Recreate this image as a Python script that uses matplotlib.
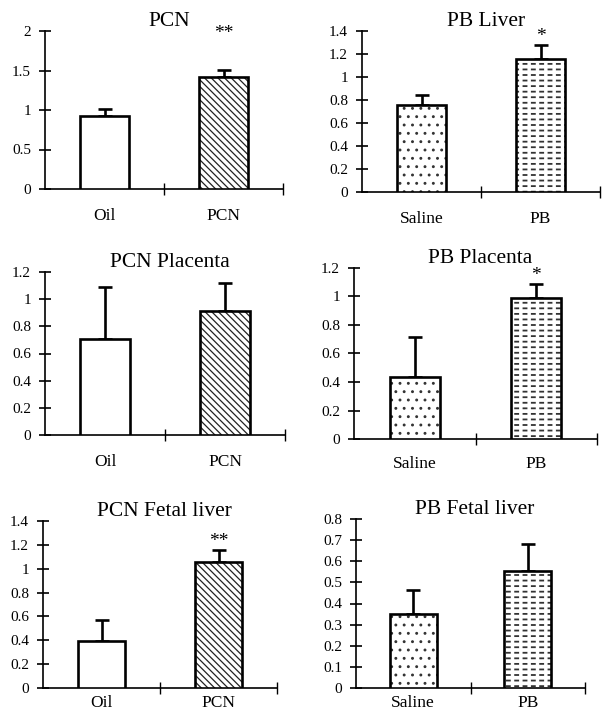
import matplotlib
matplotlib.use("Agg")
import matplotlib.pyplot as plt
from matplotlib.ticker import FuncFormatter, MultipleLocator

plt.rcParams['font.family'] = ['Liberation Serif', 'DejaVu Serif']
plt.rcParams['hatch.linewidth'] = 0.9

# --- data ---
TITLES = ["PCN", "PB Liver", "PCN Placenta", "PB Placenta",
          "PCN Fetal liver", "PB Fetal liver"]
GROUPS_PCN = ["Oil", "PCN"]
GROUPS_PB = ["Saline", "PB"]

pcn_means = [0.92, 1.42]
pcn_err = [0.09, 0.09]
pb_liver_means = [0.76, 1.16]
pb_liver_err = [0.08, 0.12]
pcn_plac_means = [0.71, 0.91]
pcn_plac_err = [0.38, 0.21]
pb_plac_means = [0.435, 0.99]
pb_plac_err = [0.28, 0.095]
pcn_fetal_means = [0.395, 1.06]
pcn_fetal_err = [0.175, 0.10]
pb_fetal_means = [0.35, 0.555]
pb_fetal_err = [0.115, 0.125]

STARS = ["**", "*", "", "*", "**", ""]

YMAX = [2, 1.4, 1.2, 1.2, 1.4, 0.8]
YSTEP = [0.5, 0.2, 0.2, 0.2, 0.2, 0.1]

# pixel boxes of each panel: left, right, top, bottom
BOXES = [(45, 283, 31, 189), (362, 600, 31, 192),
         (45, 285, 272, 435), (354, 597, 268, 439),
         (43, 277, 521, 688), (356, 585, 519, 688)]
STAR_OFFSET = [20, 0, 0, 0, 0, 0]
XLABEL_PAD = [14, 14, 14, 12, 5, 5]

W, H = 602, 712

panels = [
    (GROUPS_PCN, pcn_means, pcn_err),
    (GROUPS_PB, pb_liver_means, pb_liver_err),
    (GROUPS_PCN, pcn_plac_means, pcn_plac_err),
    (GROUPS_PB, pb_plac_means, pb_plac_err),
    (GROUPS_PCN, pcn_fetal_means, pcn_fetal_err),
    (GROUPS_PB, pb_fetal_means, pb_fetal_err),
]


def fmt(v, pos):
    return "%g" % round(v, 2)


fig = plt.figure(figsize=(W / 100, H / 100), dpi=100)

for i, (groups, means, err) in enumerate(panels):
    l, r, t, b = BOXES[i]
    ax = fig.add_axes([l / W, (H - b) / H, (r - l) / W, (b - t) / H])
    x = range(len(groups))
    pcn = groups == GROUPS_PCN

    if pcn:
        hatches = ["", "\\\\\\\\\\"]
        hcolor = "#222222"
    else:
        hatches = ["..", "---"]
        hcolor = "#333333"

    # hatch layer drawn in grey, outline drawn on top in black
    bars = ax.bar(x, means, width=0.41, color="white", edgecolor=hcolor,
                  linewidth=0, zorder=3)
    for bar, h in zip(bars, hatches):
        bar.set_hatch(h)
    if not pcn and hasattr(bars[1], "set_hatch_linewidth"):
        bars[1].set_hatch_linewidth(1.3)

    if not pcn:
        # white vertical hatch breaks the PB lines into short dashes
        cut = ax.bar([1], [means[1]], width=0.41, fill=False,
                     edgecolor="white", linewidth=0, hatch="||", zorder=3.5)
        for p in cut:
            if hasattr(p, "set_hatch_linewidth"):
                p.set_hatch_linewidth(2.5)

    ax.bar(x, means, width=0.41, fill=False, edgecolor="black",
           linewidth=1.9, zorder=4)
    ax.errorbar(x, means, yerr=[[0] * len(err), err], fmt="none",
                ecolor="black", elinewidth=1.9, capsize=5, capthick=1.9,
                zorder=2)

    if STARS[i]:
        ax.annotate(STARS[i], (1, means[1] + err[1]),
                    xytext=(0, STAR_OFFSET[i]), textcoords="offset points",
                    ha="center", va="bottom", fontsize=14,
                    annotation_clip=False)

    ax.set_xlim(-0.5, 1.5)
    ax.set_ylim(0, YMAX[i])
    ax.yaxis.set_major_locator(MultipleLocator(YSTEP[i]))
    ax.yaxis.set_major_formatter(FuncFormatter(fmt))
    ax.set_xticks(list(x))
    ax.set_xticklabels(groups, fontsize=12.5)
    ax.set_xticks([0.5, 1.5], minor=True)
    ax.tick_params(axis="x", which="major", length=0, pad=XLABEL_PAD[i])
    ax.tick_params(axis="x", which="minor", direction="inout", length=8,
                   width=1.0)
    ax.tick_params(axis="y", direction="inout", length=8, width=1.2,
                   labelsize=11, pad=6)

    for s in ["top", "right"]:
        ax.spines[s].set_visible(False)
    for s in ["left", "bottom"]:
        ax.spines[s].set_linewidth(1.2)

    ax.set_title(TITLES[i], fontsize=15.5, pad=-1, x=0.52)

fig.savefig("out.png", dpi=100)
